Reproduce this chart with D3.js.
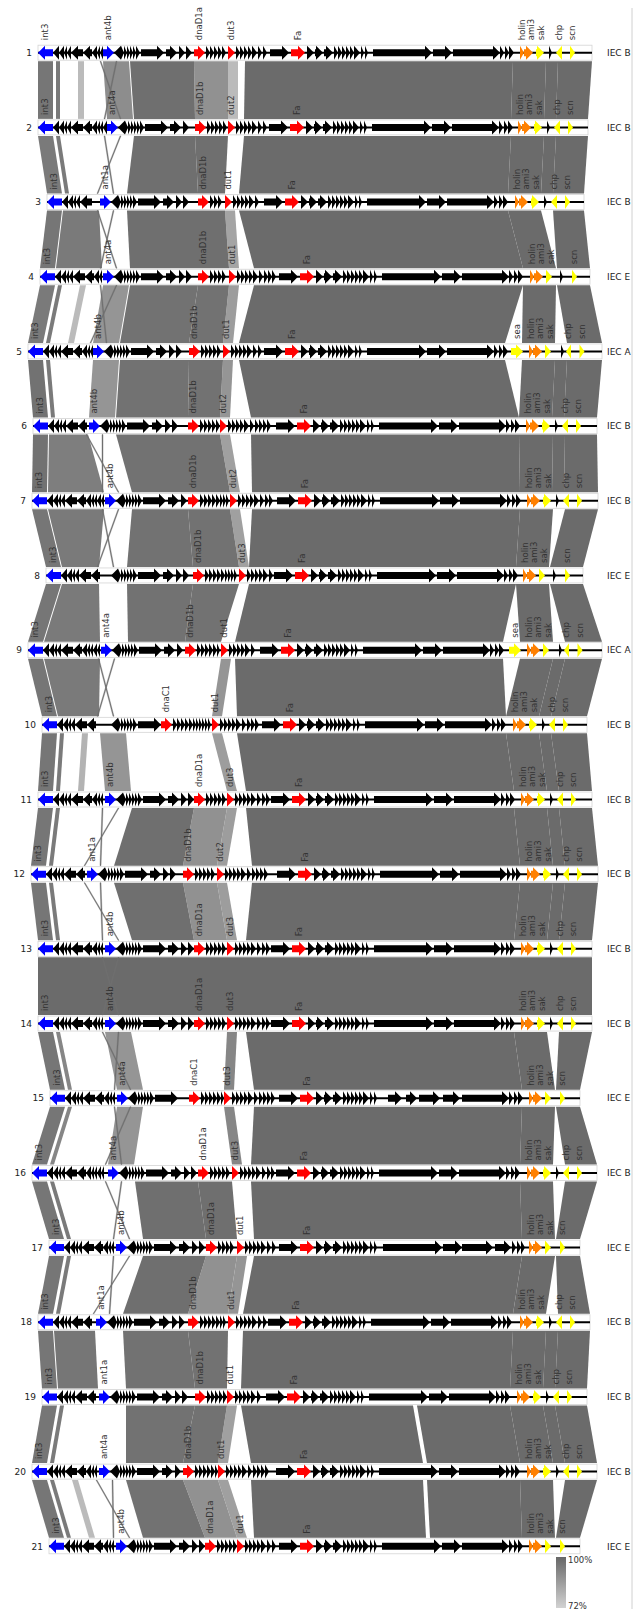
<!DOCTYPE html>
<html><head><meta charset="utf-8">
<script src="https://cdn.jsdelivr.net/npm/d3@7"></script>
<style>body{margin:0;background:#fff}svg{display:block}text{font-family:"DejaVu Sans",sans-serif}</style>
</head><body><svg id="c" width="641" height="1619"></svg>
<script>
// ---------- DATA (positions in kb) ----------
const trackNames = ["1","2","3","4","5","6","7","8","9","10","11","12","13","14","15","16","17","18","19","20","21"];
const iecTypes = ["IEC B","IEC B","IEC B","IEC E","IEC A","IEC B","IEC B","IEC E","IEC A","IEC B","IEC B","IEC B","IEC B","IEC B","IEC E","IEC B","IEC E","IEC B","IEC B","IEC B","IEC E"];
const trackStart = [3.8,3.8,4.7,4.0,2.8,3.3,3.2,4.6,2.8,4.2,3.8,3.1,3.8,3.8,5.0,3.2,4.9,3.8,4.2,3.2,4.9];
const trackEnd   = [59.2,58.8,58.4,59.0,60.2,59.7,59.8,58.3,60.2,58.7,59.2,59.8,59.2,59.2,58.0,59.7,58.0,59.0,58.7,59.7,58.0];
const antPos   = [10.3,10.7,10.0,10.3,9.3,8.9,10.5,10.0,10.1,10.0,10.5,8.7,10.5,10.5,11.7,10.8,11.6,9.6,9.9,9.9,11.6];
const antNames = ["ant4b","ant4a","ant1a","ant4a","ant4b","ant4b","ant4b",null,"ant4a",null,"ant4b","ant1a","ant4b","ant4b","ant4a","ant4a","ant4b","ant1a","ant1a","ant4a","ant4b"];
const dnaPos   = [19.4,19.5,19.8,19.8,18.9,18.8,18.8,19.3,18.5,16.1,19.4,18.3,19.4,19.4,18.9,19.8,20.6,18.8,19.5,18.3,20.5];
const dnaNames = ["dnaD1a","dnaD1b","dnaD1b","dnaD1b","dnaD1b","dnaD1b","dnaD1b","dnaD1b","dnaD1b","dnaC1","dnaD1a","dnaD1b","dnaD1a","dnaD1a","dnaC1","dnaD1a","dnaD1a","dnaD1b","dnaD1b","dnaD1b","dnaD1a"];
const dutPos   = [22.8,22.8,22.5,22.9,22.3,22.0,23.0,23.9,22.1,21.2,22.7,21.7,22.7,22.7,22.4,23.2,23.7,22.8,22.7,21.8,23.7];
const dutNames = ["dut3","dut2","dut1","dut1","dut1","dut2","dut2","dut3","dut1","dut1","dut3","dut2","dut3","dut3","dut3","dut3","dut1","dut1","dut1","dut1","dut1"];
const faPos    = [29.1,29.0,28.5,30.0,28.5,29.7,29.8,29.5,28.1,28.3,29.2,29.8,29.2,29.2,30.0,29.7,30.0,28.9,28.7,29.7,30.0];
const holinPos = [52.0,51.8,51.5,53.0,52.9,52.6,52.7,52.3,52.7,51.3,52.1,52.7,52.1,52.1,52.9,52.7,52.9,52.0,51.7,52.7,52.9];
const lateVariant = ["std","std","std","std","std","std","std","std","std","std","std","std","std","std","E15","std","E17","std","std","std","std"];
const lysVariant  = ["B","B","B","E1","A","B","B","E1","A","B","B","B","B","B","E2","B","E2","B","B","B","E2"];

// gene module templates: [relStart, relEnd, strand, role]
const leftModule = [[0,1.5,-1,"int"],[1.5,2.1,-1,""],[2.1,2.6,-1,""],[2.6,2.9,-1,""],[2.9,3.3,-1,""],[3.3,4.5,-1,""],[4.5,5.4,-1,""],[5.4,5.9,-1,""],[5.9,6.2,-1,""],[6.2,6.5,-1,""],[6.5,6.9,-1,""],[6.9,7.2,-1,""]];
const repModule = [[0,1.1,1,"ant"],[1.1,1.8,-1,""],[1.8,2.1,1,""],[2.1,2.4,1,""],[2.4,2.7,1,""],[2.7,3.0,1,""],[3.0,3.3,1,""],[3.3,3.7,1,""],[3.8,6.1,1,""],[6.3,7.4,1,""],[7.6,8.2,1,""],[8.3,8.9,1,""]];
const dnaModule = [[0,1.1,1,"dna"],[1.2,1.6,1,""],[1.6,2.0,1,""],[2.0,2.4,1,""],[2.4,2.8,1,""],[2.8,3.2,1,""],[3.2,3.5,1,""],[3.5,3.8,1,""],[3.8,4.1,1,""],[4.1,4.4,1,""],[4.4,4.7,1,""],[4.7,5.0,1,""]];
const dutModule = [[0,0.7,1,"dut"],[0.8,1.2,1,""],[1.2,1.6,1,""],[1.6,2.0,1,""],[2.0,2.4,1,""],[2.4,2.9,1,""],[3.0,3.4,1,""],[3.5,3.9,1,""],[3.9,4.3,1,""],[4.3,4.7,1,""],[4.7,5.1,1,""]];
const lateHead = [[-2.1,-0.2,1,""],[0,1.4,1,"fa"],[1.6,2.3,1,""],[2.4,3.2,1,""],[3.3,4.2,1,""],[4.3,4.7,1,""],[4.7,5.1,1,""],[5.1,5.5,1,""],[5.5,5.9,1,""],[5.9,6.3,1,""],[6.3,6.9,1,""],[7.0,7.3,1,""],[7.4,7.7,1,""]];
const lateTails = {
  std: [[8.2,14.1,1,""],[14.2,16.1,1,""],[16.2,20.9,1,""],[20.9,21.3,1,""],[21.4,21.8,1,""],[21.8,22.3,1,""]],
  E15: [[8.8,10.2,1,""],[10.6,11.7,1,""],[11.9,14.0,1,""],[14.3,16.0,1,""],[16.2,20.9,1,""],[20.9,21.3,1,""],[21.4,21.8,1,""],[21.8,22.3,1,""]],
  E17: [[8.3,14.2,1,""],[14.3,16.2,1,""],[16.2,19.3,1,""],[19.5,21.1,1,""],[21.2,21.6,1,""],[21.7,22.1,1,""],[22.1,22.5,1,""]]
};
const lysModules = {
  B:  [[0,0.4,1,"holin"],[0.4,1.3,1,"ami3"],[1.6,2.4,1,"sak"],[2.9,3.2,1,""],[3.6,4.2,-1,"chp"],[5.0,5.5,1,"scn"]],
  A:  [[-1.8,-0.6,1,"sea"],[0,0.4,1,"holin"],[0.4,1.3,1,"ami3"],[1.6,2.2,1,"sak"],[3.2,3.5,1,""],[3.7,4.2,-1,"chp"],[5.05,5.55,1,"scn"]],
  E1: [[0,0.4,1,"holin"],[0.4,1.3,1,"ami3"],[1.6,2.2,1,"sak"],[3.0,3.3,1,""],[4.2,4.7,1,"scn"]],
  E2: [[0,0.4,1,"holin"],[0.4,1.3,1,"ami3"],[1.6,2.2,1,"sak"],[3.1,3.6,1,"scn"]]
};

// comparisons between consecutive genomes: [region, % identity]
const pairBlocks = [
 [["int",96],["lft",95],["lft2",78],["antblk",90],["antX",90],["rep",98],["dna",89],["dut",78],["right",99]],
 [["int",95],["lft",95],["antX",90],["rep",98],["dna",98],["right",99]],
 [["int",96],["left",95],["antX",90],["rep",98],["dna",98],["dut",84],["right",99]],
 [["int",95],["lft",95],["lft2",78],["antblk",88],["antX",90],["rep",97],["dna",97],["dut",86],["right",99]],
 [["int",97],["lft",95],["antblk",88],["rep",97],["dna",97],["dut",88],["right",99]],
 [["int",97],["left",94],["antX",90],["rep",97],["dna",97],["dut",85],["right",99]],
 [["int",96],["left",95],["antX",90],["rep",97],["dna",97],["dut",85],["right",99]],
 [["int",96],["left",95],["rep",97],["dna",97],["right",99]],
 [["int",96],["left",95],["antX",90],["dut",88],["right",99]],
 [["int",96],["lft",95],["lft2",80],["antblk",88],["dut",86],["right",99]],
 [["int",96],["lft",95],["antX",90],["rep",98],["dna",89],["dut",86],["right",99]],
 [["int",96],["lft",95],["antX",90],["rep",98],["dna",89],["dut",86],["right",99]],
 [["all",99],["antX",90]],
 [["int",96],["lft",92],["antblk",88],["antX",90],["dut",92],["right",99]],
 [["int",96],["lft",92],["antblk",88],["antX",90],["dut",92],["right",99]],
 [["int",96],["lft",95],["antX",90],["rep",98],["dna",98],["right",99]],
 [["int",96],["lft",95],["antX",90],["rep",98],["dna",89],["dut",88],["right",99]],
 [["int",96],["left",96],["rep",97],["dna",97],["right",99]],
 [["int",96],["lft",95],["rep",97],["dna",97],["dut",85],["rightSplit",99]],
 [["int",96],["lft",95],["lft2",78],["antX",90],["rep",97],["dna",89],["dut",85],["rightSplit",99]]
];
const legendTicks = [100, 72];

// ---------- RENDER ----------
const svg = d3.select("#c");
const x = d3.scaleLinear().domain([0, 64]).range([0, 640]);
const y = d3.scalePoint().domain(trackNames).range([52.7, 1546.3]);
const idColor = d3.scaleLinear().domain([72, 100]).range(["#d2d2d2", "#676767"]);
const roleColor = {"":"#000","int":"#0000ff","ant":"#0000ff","dna":"#ff0000","dut":"#ff0000","fa":"#ff0000",
  "holin":"#ff8000","ami3":"#ff8000","sak":"#ffff00","chp":"#ffff00","scn":"#ffff00","sea":"#ffff00"};
const BAND = 7.5;

function genesOf(i){
  const s=trackStart[i], a=antPos[i], dn=dnaPos[i], du=dutPos[i], fa=faPos[i], h=holinPos[i], en=trackEnd[i], lv=lysVariant[i];
  const out=[];
  const add=(tpl, anchor, lo, hi)=>tpl.forEach(g=>{
    const gs=anchor+g[0], ge=anchor+g[1];
    if(gs>=lo-0.01 && ge<=hi+0.01){
      if(g[3]==="ant" && !antNames[i]) return;
      out.push({s:gs,e:ge,strand:g[2],role:g[3]});
    }});
  add(leftModule, s, s, a);
  add(repModule, a, a, dn);
  add(dnaModule, dn, dn, du);
  add(dutModule, du, du, fa-2.2);
  const hiE = lv==="A" ? h-1.9 : h;
  add(lateHead.concat(lateTails[lateVariant[i]]), fa, du+1.0, hiE);
  add(lysModules[lv], h, fa+20, en);
  return out;
}
function nameOf(role,i){
  return {int:"int3",ant:antNames[i],dna:dnaNames[i],dut:dutNames[i],fa:"Fa"}[role] || role;
}
function arrowPts(g, cy){
  const x1=x(g.s), x2=x(g.e), w=x2-x1, hl=Math.min(7,w), bh=3.5, hh=7;
  if(g.strand>0){
    if(hl>=w) return [[x1,cy-hh],[x2,cy],[x1,cy+hh]];
    return [[x1,cy-bh],[x2-hl,cy-bh],[x2-hl,cy-hh],[x2,cy],[x2-hl,cy+hh],[x2-hl,cy+bh],[x1,cy+bh]];
  } else {
    if(hl>=w) return [[x2,cy-hh],[x1,cy],[x2,cy+hh]];
    return [[x2,cy-bh],[x1+hl,cy-bh],[x1+hl,cy-hh],[x1,cy],[x1+hl,cy+hh],[x1+hl,cy+bh],[x2,cy+bh]];
  }
}
function seg(i, code){
  const s=trackStart[i], a=antPos[i], dn=dnaPos[i], du=dutPos[i], fa=faPos[i], h=holinPos[i], en=trackEnd[i], lv=lysVariant[i];
  const isE = lv[0]==="E", isA = lv==="A";
  const mainEnd = isA ? h-2.4 : h-0.7;
  switch(code){
    case "int": return [s, s+1.5];
    case "lft": return [s+1.8, s+2.2];
    case "lft2": return [s+4.0, s+4.6];
    case "left": return [s+1.6, a-0.1];
    case "antblk": return [a, a+2.6];
    case "antA": return [a-0.3, a-0.2];
    case "antB": return [a+1.3, a+1.4];
    case "rep": return [a+2.7, dn];
    case "dna": return [dn, du];
    case "dut": return [du, du+1.0];
    case "all": return [s, en];
    case "main": return [fa-4.6, mainEnd];
    case "mainA": return [fa-4.6, fa+12.6];
    case "mainB": return [fa+13.0, mainEnd];
    case "lys": return [h-0.7, h+2.6];
    case "chp": return [h+2.6, h+3.8];
    case "tail": return [isE ? h+2.7 : h+3.8, en];
  }
}

// comparison blocks
const blocks=[];
pairBlocks.forEach((list, p)=>{
  const t=p, b=p+1;
  const bothChp = lysVariant[t][0]!=="E" && lysVariant[b][0]!=="E";
  list.forEach(([code, ident])=>{
    if(code==="antX"){
      blocks.push({t,b,top:seg(t,"antA"),bot:seg(b,"antB"),ident,thin:true});
      blocks.push({t,b,top:seg(t,"antB"),bot:seg(b,"antA"),ident,thin:true});
      return;
    }
    let codes=[code];
    if(code==="right") codes=["main","lys"].concat(bothChp?["chp"]:[]).concat(["tail"]);
    if(code==="rightSplit") codes=["mainA","mainB","lys"].concat(bothChp?["chp"]:[]).concat(["tail"]);
    codes.forEach(c=>blocks.push({t, b, top:seg(t,c), bot:seg(b,c), ident, thin:false}));
  });
});
blocks.sort((a,b)=>(a.thin-b.thin)||(a.ident-b.ident));
svg.append("g").selectAll("polygon").data(blocks).join("polygon")
  .attr("points", d=>{
    const yt=y(trackNames[d.t])+BAND+1, yb=y(trackNames[d.b])-BAND-1;
    return [[x(d.top[0]),yt],[x(d.top[1]),yt],[x(d.bot[1]),yb],[x(d.bot[0]),yb]].map(p=>p.join(",")).join(" ");
  })
  .attr("fill", d=>d.thin ? "#6f6f6f" : idColor(d.ident))
  .attr("stroke", d=>d.thin ? "#6f6f6f" : "none").attr("stroke-width", d=>d.thin?0.4:0);

// tracks
const gT = svg.append("g");
trackNames.forEach((tn,i)=>{
  const cy=y(tn);
  const g=gT.append("g");
  g.append("rect").attr("x",x(trackStart[i])).attr("y",cy-BAND).attr("width",x(trackEnd[i])-x(trackStart[i])).attr("height",2*BAND)
    .attr("fill","#fff").attr("stroke","#d4d4d4").attr("stroke-width",0.8);
  g.append("line").attr("x1",x(trackStart[i])).attr("x2",x(trackEnd[i])).attr("y1",cy).attr("y2",cy).attr("stroke","#000").attr("stroke-width",2);
  const genes=genesOf(i);
  g.selectAll("polygon").data(genes).join("polygon")
    .attr("points", d=>arrowPts(d,cy).map(p=>p.join(",")).join(" "))
    .attr("fill", d=>roleColor[d.role]);
  const labeled = genes.filter(d=>d.role!=="").map(d=>({name:nameOf(d.role,i), cx:x((d.s+d.e)/2)}));
  labeled.sort((a,b)=>a.cx-b.cx);
  for(let k=1;k<labeled.length;k++){ if(labeled[k].cx<labeled[k-1].cx+9.5) labeled[k].cx=labeled[k-1].cx+9.5; }
  g.selectAll("text.gl").data(labeled).join("text").attr("class","gl")
    .attr("transform", d=>`translate(${d.cx},${cy-12.5}) rotate(-90)`)
    .attr("dy","0.35em").attr("font-size",8.5).attr("fill","#333").text(d=>d.name);
  g.append("text").attr("x",x(trackStart[i])-6).attr("y",cy+3.2).attr("text-anchor","end")
    .attr("font-size",9).attr("fill","#222").text(tn);
  g.append("text").attr("x",607).attr("y",cy+3.2).attr("font-size",9).attr("fill","#222").text(iecTypes[i]);
});

// right frame line
svg.append("line").attr("x1",632).attr("x2",632).attr("y1",8).attr("y2",1609).attr("stroke","#d0d0d0").attr("stroke-width",1);

// legend
const defs=svg.append("defs");
const grad=defs.append("linearGradient").attr("id","lg").attr("x1",0).attr("y1",0).attr("x2",0).attr("y2",1);
grad.append("stop").attr("offset","0%").attr("stop-color",idColor(legendTicks[0]));
grad.append("stop").attr("offset","100%").attr("stop-color",idColor(legendTicks[1]));
svg.append("rect").attr("x",556).attr("y",1557).attr("width",10).attr("height",51).attr("fill","url(#lg)");
const ly=d3.scaleLinear().domain([100,72]).range([1563,1609]);
svg.selectAll("text.lg").data(legendTicks).join("text").attr("class","lg")
  .attr("x",568).attr("y",d=>ly(d)).attr("font-size",8.5).attr("fill","#333").text(d=>d+"%");
</script></body></html>
